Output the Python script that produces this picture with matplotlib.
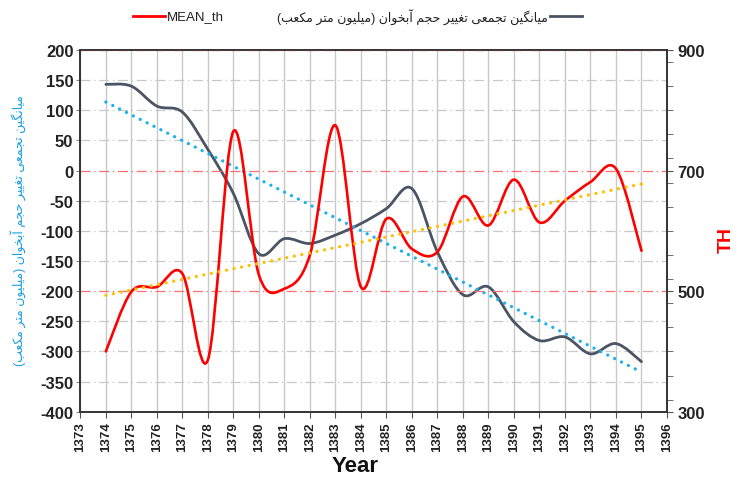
import matplotlib
matplotlib.use('Agg')
import matplotlib.pyplot as plt
from matplotlib.path import Path
from matplotlib.patches import PathPatch
from matplotlib.lines import Line2D
from matplotlib.ticker import MultipleLocator
import numpy as np

years = list(range(1374, 1396))
# cumulative aquifer volume change (left axis)
volume_change = [143, 140, 107, 97, 35, -38, -138, -113, -121, -107, -88, -63,
                 -30, -135, -206, -193, -251, -282, -276, -304, -287, -317]
# MEAN_th (right axis)
mean_th = [400, 499, 507, 529, 386, 765, 527, 504, 560, 775, 507, 620,
           570, 565, 657, 609, 685, 614, 650, 681, 703, 567]
x_ticks = list(range(1373, 1397))
left_ticks = list(range(-400, 201, 50))
right_ticks = [300, 500, 700, 900]

fa_label = 'میانگین تجمعی تغییر حجم آبخوان (میلیون متر مکعب)'

plt.rcParams['font.family'] = ['Liberation Sans', 'DejaVu Sans']
plt.rcParams['axes.unicode_minus'] = False

# simple arabic/persian shaping (no reshaper lib available)
FORMS = {
    'ا': ('\uFE8D', '\uFE8E', None, None),
    'آ': ('\uFE81', '\uFE82', None, None),
    'ب': ('\uFE8F', '\uFE90', '\uFE91', '\uFE92'),
    'ت': ('\uFE95', '\uFE96', '\uFE97', '\uFE98'),
    'ج': ('\uFE9D', '\uFE9E', '\uFE9F', '\uFEA0'),
    'ح': ('\uFEA1', '\uFEA2', '\uFEA3', '\uFEA4'),
    'خ': ('\uFEA5', '\uFEA6', '\uFEA7', '\uFEA8'),
    'ر': ('\uFEAD', '\uFEAE', None, None),
    'ع': ('\uFEC9', '\uFECA', '\uFECB', '\uFECC'),
    'غ': ('\uFECD', '\uFECE', '\uFECF', '\uFED0'),
    'ل': ('\uFEDD', '\uFEDE', '\uFEDF', '\uFEE0'),
    'م': ('\uFEE1', '\uFEE2', '\uFEE3', '\uFEE4'),
    'ن': ('\uFEE5', '\uFEE6', '\uFEE7', '\uFEE8'),
    'و': ('\uFEED', '\uFEEE', None, None),
    'ی': ('\uFBFC', '\uFBFD', '\uFBFE', '\uFBFF'),
    'ک': ('\uFB8E', '\uFB8F', '\uFB90', '\uFB91'),
    'گ': ('\uFB92', '\uFB93', '\uFB94', '\uFB95'),
}
RIGHT_ONLY = set('اآدذرزژو')


def shape(text):
    out = []
    for i, ch in enumerate(text):
        if ch not in FORMS:
            out.append(ch)
            continue
        prev = text[i - 1] if i > 0 else ''
        nxt = text[i + 1] if i + 1 < len(text) else ''
        jp = prev in FORMS and prev not in RIGHT_ONLY
        jn = nxt in FORMS and ch not in RIGHT_ONLY
        iso, fin, ini, med = FORMS[ch]
        if jp and jn:
            out.append(med)
        elif jp:
            out.append(fin)
        elif jn:
            out.append(ini)
        else:
            out.append(iso)
    s = ''.join(reversed(out))
    return s.translate(str.maketrans('()', ')('))


def smooth_path(xs, ys):
    pts = np.column_stack([xs, ys]).astype(float)
    n = len(pts)
    verts = [pts[0]]
    codes = [Path.MOVETO]
    for i in range(n - 1):
        p0 = pts[max(i - 1, 0)]
        p1 = pts[i]
        p2 = pts[i + 1]
        p3 = pts[min(i + 2, n - 1)]
        verts += [p1 + (p2 - p0) / 6, p2 - (p3 - p1) / 6, p2]
        codes += [Path.CURVE4] * 3
    return Path(verts, codes)


fig = plt.figure(figsize=(7.37, 4.81), dpi=100)
ax = fig.add_axes([0.109, 0.142, 0.796, 0.752])
ax2 = ax.twinx()

dashdot = (0, (8, 3, 1, 3))
ax.set_xlim(1373, 1396)
ax.set_ylim(-400, 200)
ax.set_xticks(x_ticks)
ax.set_yticks(left_ticks)
ax.xaxis.grid(True, color='#c8c8c8', lw=1.0, linestyle='-')
ax.yaxis.grid(True, color='#c8c8c8', lw=0.9, linestyle=dashdot)
ax.set_axisbelow(True)
# the right axis grid takes these two rows
for val, gl in zip(left_ticks, ax.get_ygridlines()):
    if val in (0, -200):
        gl.set_visible(False)

ax2.set_ylim(300, 900)
ax2.set_yticks(right_ticks)
ax2.yaxis.set_minor_locator(MultipleLocator(40))
ax2.yaxis.grid(True, color='#ff6e6e', lw=0.9, linestyle=dashdot)

gray = '#4a5464'
red = '#ff0000'
ax.add_patch(PathPatch(smooth_path(years, volume_change), fill=False,
                       edgecolor=gray, lw=2.0, capstyle='round', zorder=3))
k, b = np.polyfit(years, volume_change, 1)
ax.plot([years[0], years[-1]], [k * years[0] + b, k * years[-1] + b],
        color='#1ab2ee', lw=2.4, linestyle=(0, (0.01, 2.3)),
        dash_capstyle='round', zorder=4)

ax2.add_patch(PathPatch(smooth_path(years, mean_th), fill=False,
                        edgecolor=red, lw=1.9, capstyle='round', zorder=3))
k2, b2 = np.polyfit(years, mean_th, 1)
ax2.plot([years[0], years[-1]], [k2 * years[0] + b2, k2 * years[-1] + b2],
         color='#ffc000', lw=2.4, linestyle=(0, (0.01, 2.3)),
         dash_capstyle='round', zorder=4)

for a in (ax, ax2):
    for sp in a.spines.values():
        sp.set_color('#333333')
        sp.set_linewidth(1.2)

ax.tick_params(axis='x', labelrotation=90, labelsize=9.5, length=4,
               color='#555555', pad=3)
ax.tick_params(axis='y', labelsize=12, length=3, color='#888888', pad=2)
ax2.tick_params(axis='y', which='both', labelsize=12, length=4,
                color='#555555')
for lab in ax.get_xticklabels() + ax.get_yticklabels() + ax2.get_yticklabels():
    lab.set_fontweight('bold')
    lab.set_color('#222222')

fig.text(0.482, 0.03, 'Year', fontsize=16, fontweight='bold', ha='center',
         va='center', color='#111111')
fig.text(0.985, 0.501, 'TH', fontsize=14, fontweight='bold', color=red,
         rotation=90, ha='center', va='center')
fig.text(0.024, 0.52, shape(fa_label), fontsize=9, color='#1a9fe6',
         rotation=90, ha='center', va='center')

# legend drawn by hand to keep the rtl layout of the second entry
ly = 1 - 17 / 481
fig.add_artist(Line2D([133 / 737, 165 / 737], [ly, ly], color=red, lw=2))
fig.text(167 / 737, ly, 'MEAN_th', fontsize=9.5, va='center', ha='left',
         color='#222222')
fig.add_artist(Line2D([550 / 737, 582 / 737], [ly, ly], color=gray, lw=2))
fig.text(548 / 737, ly, shape(fa_label), fontsize=9, va='center', ha='right',
         color='#222222')

fig.savefig('out.png', dpi=100)
